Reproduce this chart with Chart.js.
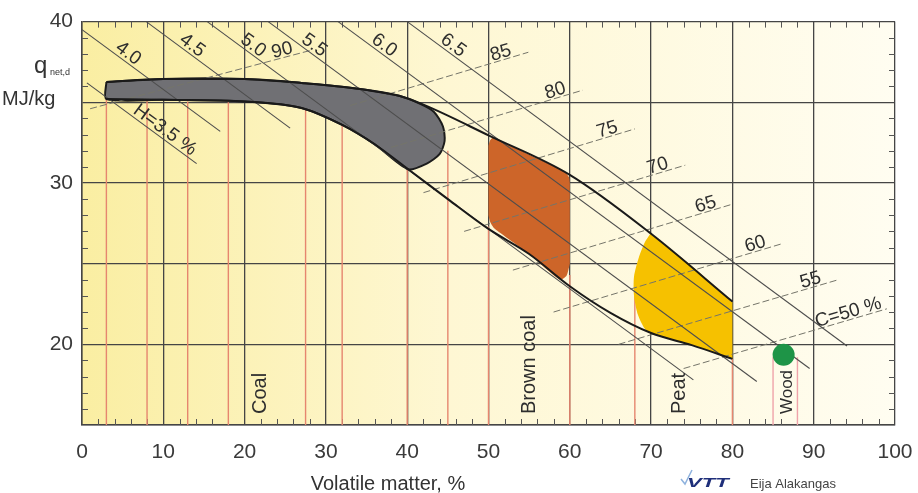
<!DOCTYPE html>
<html>
<head>
<meta charset="utf-8">
<script src="https://cdn.jsdelivr.net/npm/chart.js@4.4.1/dist/chart.umd.min.js"></script>
<style>
  html, body { margin: 0; padding: 0; background: #fff; }
  canvas { display: block; }
</style>
</head>
<body>
<canvas id="myChart" width="918" height="493"></canvas>
<script>
const xTickLabels = [0, 10, 20, 30, 40, 50, 60, 70, 80, 90, 100];
const yTickLabels = [20, 30, 40];

// red sample lines: x position and the value where they stop
const redX   = [3, 8, 13, 18, 27.5, 32, 40, 45, 50, 60, 68, 80, 85, 88];
const redTop = [35.2, 35.1, 35.05, 35.0, 34.6, 33.6, 30.9, 32.0, 27.3, 24.3, 23.0, 19.1, 19.2, 19.2];

// hydrogen lines (H %)
const hLabels = ['H=3.5 %', '4.0', '4.5', '5.0', '5.5', '6.0', '6.5'];
const hFrom = [[0.6, 36.2], [0, 39.5], [7.9, 40], [15.4, 40], [22.9, 40], [31.5, 40], [40.0, 40]];
const hTo   = [[14.1, 31.2], [17.0, 33.2], [25.6, 33.4], [75.2, 17.8], [83.0, 17.7], [89.5, 18.5], [94.1, 19.9]];

// carbon lines (C %)
const cLabels = ['90', '85', '80', '75', '70', '65', '60', '55', 'C=50 %'];
const cFrom = [[1, 34.6], [33, 34.8], [38, 32.2], [42, 29.4], [47, 27.0], [53, 24.6], [58, 22.0], [66, 20.0], [74, 18.5]];
const cTo   = [[28, 38.2], [54.9, 38.1], [61.6, 35.75], [68.0, 33.35], [74.2, 31.1], [80.1, 28.7], [86.2, 26.25], [93.0, 24.0], [99.0, 22.2]];

// envelope of the fuels
const upperEdge = [[3, 36.25], [10, 36.45], [20, 36.45], [27, 36.2], [33, 35.9], [39, 35.4], [42, 34.85], [50, 32.95], [60, 30.5], [70, 26.85], [80, 22.65]];
const lowerEdge = [[3, 35.2], [10, 35.15], [20, 35.05], [27, 34.65], [32, 33.6], [36, 32.4], [40, 30.9], [45, 29.0], [50, 27.15], [55, 25.6], [60, 23.6], [65, 21.95], [70, 20.7], [75, 19.95], [80, 19.1]];

// fuel areas (outline vertices)
const coalArea = [[3, 36.25], [10, 36.45], [20, 36.45], [27, 36.2], [33, 35.9], [39, 35.4], [41.6, 34.9], [43.3, 34.4], [44.4, 33.5], [44.6, 32.6], [44.0, 31.8], [42.4, 31.2], [40.1, 30.85], [36, 32.4], [32, 33.6], [27, 34.65], [20, 35.05], [10, 35.15], [3, 35.2], [3, 36.25]];
const brownCoalArea = [[50.6, 32.85], [55, 31.75], [59.4, 30.7], [59.9, 30.35], [60, 30.0], [60, 29.9], [60, 25.1], [60, 25.0], [59.6, 24.25], [58.8, 24.0], [55, 25.6], [50.7, 27.2], [50.2, 27.6], [50, 28.0], [50, 28.1], [50, 32.2], [50, 32.3], [50.2, 32.65], [50.6, 32.85]];
const peatArea = [[69.9, 26.85], [75, 24.85], [79.7, 22.75], [80, 22.6], [80, 22.5], [80, 19.2], [80, 19.1], [75, 19.95], [71.5, 20.45], [69.5, 20.8], [68.4, 21.8], [67.9, 23.0], [67.9, 24.2], [68.5, 25.4], [69.2, 26.3], [69.9, 26.85]];
const woodPoint = [86.3, 19.35];

const FONT = '"Liberation Sans", Arial, sans-serif';
const pts = arr => arr.map(([x, y]) => ({x, y}));

const datasets = [];
redX.forEach((x, i) => datasets.push({
    data: [{x, y: 15}, {x, y: redTop[i]}],
    borderColor: x > 82 ? '#EFA3AA' : '#E6866F',
    borderWidth: 1.4,
    order: 10
}));
datasets.push({ data: pts(coalArea), fill: 'shape', backgroundColor: '#707074', borderColor: '#1c1c1c', borderWidth: 2, tension: 0.25, order: 8 });
datasets.push({ data: pts(brownCoalArea), fill: 'shape', backgroundColor: '#CD6529', borderWidth: 0, tension: 0.2, order: 8 });
datasets.push({ data: pts(peatArea), fill: 'shape', backgroundColor: '#F6C100', borderWidth: 0, tension: 0.25, order: 8 });
hLabels.forEach((t, i) => datasets.push({
    data: pts([hFrom[i], hTo[i]]),
    borderColor: '#4d4d4d', borderWidth: 1.1, order: 6
}));
cLabels.forEach((t, i) => datasets.push({
    data: pts([cFrom[i], cTo[i]]),
    borderColor: '#75756a', borderWidth: 1, borderDash: [7, 3], order: 6
}));
datasets.push({ data: pts(upperEdge), borderColor: '#1a1a1a', borderWidth: 2, cubicInterpolationMode: 'monotone', order: 4 });
datasets.push({ data: pts(lowerEdge), borderColor: '#1a1a1a', borderWidth: 2, cubicInterpolationMode: 'monotone', order: 4 });
datasets.push({ data: pts([woodPoint]), showLine: false, pointRadius: 11, pointBackgroundColor: '#1E9447', pointBorderWidth: 0, order: 2 });

const paper = {
    id: 'paper',
    beforeDraw(chart) {
        const {ctx, chartArea: a} = chart;
        const g = ctx.createLinearGradient(a.left, 0, a.right, 0);
        g.addColorStop(0, '#FAEEA2');
        g.addColorStop(0.45, '#FEF7D3');
        g.addColorStop(1, '#FFFDF1');
        ctx.save();
        ctx.fillStyle = g;
        ctx.fillRect(a.left, a.top, a.right - a.left, a.bottom - a.top);
        ctx.restore();
    },
    beforeDatasetsDraw(chart) {
        // small inward ticks on all four sides
        const {ctx, chartArea: a, scales: {x, y}} = chart;
        ctx.save();
        ctx.strokeStyle = '#555';
        ctx.lineWidth = 1;
        ctx.beginPath();
        for (let v = 2; v < 100; v += 2) {
            if (v % 10 === 0) continue;
            const px = Math.round(x.getPixelForValue(v)) + 0.5;
            ctx.moveTo(px, a.bottom); ctx.lineTo(px, a.bottom - 6);
            ctx.moveTo(px, a.top); ctx.lineTo(px, a.top + 6);
        }
        for (let v = 16; v < 40; v++) {
            if (v % 5 === 0) continue;
            const py = Math.round(y.getPixelForValue(v)) + 0.5;
            ctx.moveTo(a.left, py); ctx.lineTo(a.left + 6, py);
            ctx.moveTo(a.right, py); ctx.lineTo(a.right - 6, py);
        }
        ctx.stroke();
        ctx.restore();
    }
};

const notes = {
    id: 'notes',
    afterDatasetsDraw(chart) {
        const {ctx, scales: {x, y}} = chart;
        const P = ([vx, vy]) => [x.getPixelForValue(vx), y.getPixelForValue(vy)];
        ctx.save();
        ctx.fillStyle = '#2e2e2e';

        // H labels along the lines, near their upper end
        ctx.font = '19px ' + FONT;
        hLabels.forEach((t, i) => {
            const [x1, y1] = P(hFrom[i]), [x2, y2] = P(hTo[i]);
            const len = Math.hypot(x2 - x1, y2 - y1), dx = (x2 - x1) / len, dy = (y2 - y1) / len;
            const along = i === 0 ? 54 : 38;
            ctx.save();
            ctx.translate(x1 + dx * along + dy * 3, y1 + dy * along - dx * 3);
            ctx.rotate(Math.atan2(dy, dx));
            ctx.textAlign = 'left';
            ctx.textBaseline = 'alphabetic';
            ctx.fillText(t, 0, 0);
            ctx.restore();
        });

        // C labels near the right end
        cLabels.forEach((t, i) => {
            const [x1, y1] = P(cFrom[i]), [x2, y2] = P(cTo[i]);
            const len = Math.hypot(x2 - x1, y2 - y1), dx = (x2 - x1) / len, dy = (y2 - y1) / len;
            const back = i === cLabels.length - 1 ? 4 : 16;
            ctx.save();
            ctx.translate(x2 - dx * back + dy * 2, y2 - dy * back - dx * 2);
            ctx.rotate(Math.atan2(dy, dx));
            ctx.textAlign = 'right';
            ctx.textBaseline = 'alphabetic';
            ctx.fillText(t, 0, 0);
            ctx.restore();
        });

        // fuel names, vertical
        [['Coal', 21.9, 20], ['Brown coal', 55.0, 20], ['Peat', 73.55, 20], ['Wood', 86.7, 17]].forEach(([t, vx, size]) => {
            ctx.save();
            ctx.translate(x.getPixelForValue(vx), y.getPixelForValue(15.68));
            ctx.rotate(-Math.PI / 2);
            ctx.font = size + 'px ' + FONT;
            ctx.textAlign = 'left';
            ctx.textBaseline = 'middle';
            ctx.fillText(t, 0, 0);
            ctx.restore();
        });

        // axis titles
        ctx.fillStyle = '#333';
        ctx.textAlign = 'left';
        ctx.textBaseline = 'alphabetic';
        ctx.font = '24px ' + FONT;
        ctx.fillText('q', 34, 73);
        ctx.font = '9px ' + FONT;
        ctx.fillText('net,d', 50, 75);
        ctx.font = '20px ' + FONT;
        ctx.fillText('MJ/kg', 2, 105);
        ctx.textAlign = 'center';
        ctx.fillText('Volatile matter, %', 388, 490);

        // VTT credit
        ctx.strokeStyle = '#8FB3DE';
        ctx.lineWidth = 1.5;
        ctx.beginPath();
        ctx.moveTo(681, 479); ctx.lineTo(685, 484); ctx.lineTo(692, 470);
        ctx.stroke();
        ctx.save();
        ctx.translate(687, 487);
        ctx.scale(1.7, 1);
        ctx.fillStyle = '#1F2F7A';
        ctx.textAlign = 'left';
        ctx.font = 'italic bold 13px ' + FONT;
        ctx.fillText('VTT', 0, 0);
        ctx.restore();
        ctx.fillStyle = '#444';
        ctx.textAlign = 'left';
        ctx.font = '13px ' + FONT;
        ctx.fillText('Eija Alakangas', 750, 488);
        ctx.restore();
    }
};

new Chart(document.getElementById('myChart').getContext('2d'), {
    type: 'line',
    data: { datasets: datasets },
    plugins: [paper, notes],
    options: {
        responsive: false,
        animation: false,
        layout: { padding: { left: 0, right: 23, top: 19, bottom: 0 } },
        elements: { point: { radius: 0 }, line: { fill: false } },
        scales: {
            x: {
                type: 'linear',
                min: 0,
                max: 100,
                afterFit: s => { s.height = 68; s.paddingLeft = 0; s.paddingRight = 0; },
                border: { color: '#454545', width: 1.5 },
                grid: { color: '#454545', lineWidth: 1.3, drawTicks: false },
                ticks: {
                    stepSize: 10,
                    autoSkip: false,
                    padding: 15,
                    color: '#3a3a3a',
                    font: { family: FONT, size: 21 },
                    callback: v => xTickLabels.includes(v) ? v : ''
                }
            },
            y: {
                min: 15,
                max: 40,
                afterFit: s => { s.width = 82; },
                border: { color: '#454545', width: 1.5 },
                grid: { color: '#454545', lineWidth: 1.3, drawTicks: false },
                ticks: {
                    stepSize: 5,
                    padding: 9,
                    color: '#3a3a3a',
                    font: { family: FONT, size: 21 },
                    callback: v => yTickLabels.includes(v) ? v : ''
                }
            }
        },
        plugins: {
            legend: { display: false },
            tooltip: { enabled: false }
        }
    }
});
</script>
</body>
</html>
